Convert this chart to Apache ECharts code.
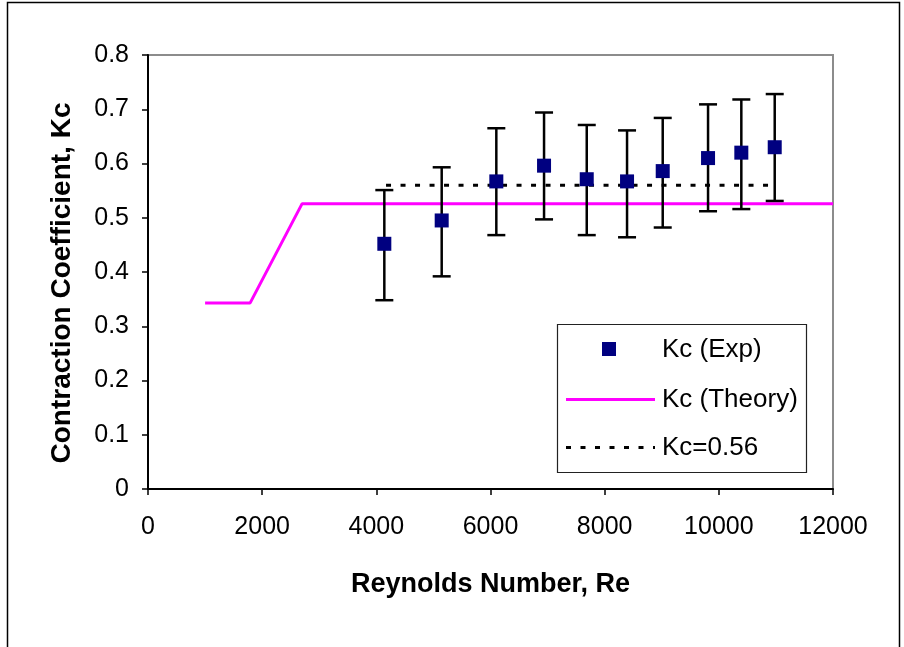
<!DOCTYPE html>
<html><head><meta charset="utf-8">
<script src="https://cdn.jsdelivr.net/npm/echarts@6/dist/echarts.min.js"></script>
<style>html,body{margin:0;padding:0;background:#fff}#c{width:904px;height:647px}</style>
</head><body><div id="c"></div>
<script>
// Experimental data
const reExp = [4140, 5145, 6102, 6938, 7686, 8392, 9017, 9811, 10394, 10979];
const kcExp = [0.452, 0.495, 0.567, 0.596, 0.571, 0.567, 0.586, 0.610, 0.620, 0.630];
const kcUpper = [0.551, 0.593, 0.665, 0.694, 0.671, 0.661, 0.684, 0.709, 0.718, 0.728];
const kcLower = [0.348, 0.392, 0.468, 0.497, 0.468, 0.464, 0.482, 0.512, 0.516, 0.531];
// Theory
const reTheory = [1000, 1790, 2700, 12000];
const kcTheory = [0.343, 0.343, 0.526, 0.526];
// Constant fit
const reFit = [4170, 10985];
const kcFit = [0.56, 0.56];
// Axis ticks
const xTicks = [0, 2000, 4000, 6000, 8000, 10000, 12000];
const yTicks = [0, 0.1, 0.2, 0.3, 0.4, 0.5, 0.6, 0.7, 0.8];
const legendNames = ['Kc (Exp)', 'Kc (Theory)', 'Kc=0.56'];

const FONT = '"Liberation Sans", Arial, sans-serif';
const chart = echarts.init(document.getElementById('c'));
const zip = (a, b) => a.map((v, i) => [v, b[i]]);

chart.setOption({
  animation: false,
  backgroundColor: '#fff',
  grid: {left: 148, top: 55, right: 71, bottom: 158, show: true, borderColor: '#8c8c8c', borderWidth: 2, backgroundColor: 'transparent'},
  xAxis: {
    type: 'value', min: xTicks[0], max: xTicks[xTicks.length - 1], interval: 2000,
    name: 'Reynolds Number, Re', nameLocation: 'middle', nameGap: 82,
    nameTextStyle: {fontFamily: FONT, fontSize: 27, fontWeight: 'bold', color: '#000'},
    axisLine: {lineStyle: {color: '#000', width: 2}},
    axisTick: {show: true, length: 6, lineStyle: {color: '#000', width: 1.5}},
    axisLabel: {fontFamily: FONT, fontSize: 25, color: '#000', margin: 26, formatter: v => String(v)},
    splitLine: {show: false}
  },
  yAxis: {
    type: 'value', min: yTicks[0], max: yTicks[yTicks.length - 1], interval: 0.1,
    name: 'Contraction Coefficient, Kc', nameLocation: 'middle', nameGap: 72, nameRotate: 90,
    nameTextStyle: {fontFamily: FONT, fontSize: 28, fontWeight: 'bold', color: '#000', padding: [0, 22, 0, 0]},
    axisLine: {show: true, lineStyle: {color: '#000', width: 2}},
    axisTick: {show: true, length: 6, lineStyle: {color: '#000', width: 1.5}},
    axisLabel: {fontFamily: FONT, fontSize: 25, color: '#000', margin: 19},
    splitLine: {show: false}
  },
  series: [
    {
      name: legendNames[1], type: 'line', data: zip(reTheory, kcTheory), symbol: 'none',
      lineStyle: {color: '#ff00ff', width: 3}, z: 2
    },
    {
      name: legendNames[2], type: 'line', data: zip(reFit, kcFit), symbol: 'none',
      lineStyle: {color: '#000', width: 3, type: [5, 9.5]}, z: 3
    },
    {
      name: 'err', type: 'custom', z: 4,
      data: reExp.map((x, i) => [x, kcLower[i], kcUpper[i]]),
      renderItem: function (params, api) {
        const lo = api.coord([api.value(0), api.value(1)]);
        const hi = api.coord([api.value(0), api.value(2)]);
        const hw = 9;
        const st = {stroke: '#000', lineWidth: 2.5};
        return {type: 'group', children: [
          {type: 'line', shape: {x1: hi[0], y1: hi[1], x2: lo[0], y2: lo[1]}, style: st},
          {type: 'line', shape: {x1: hi[0] - hw, y1: hi[1], x2: hi[0] + hw, y2: hi[1]}, style: st},
          {type: 'line', shape: {x1: lo[0] - hw, y1: lo[1], x2: lo[0] + hw, y2: lo[1]}, style: st}
        ]};
      }
    },
    {
      name: legendNames[0], type: 'scatter', data: zip(reExp, kcExp), symbol: 'rect', symbolSize: 14,
      itemStyle: {color: '#000080', opacity: 1}, z: 5
    }
  ],
  graphic: [
    {type: 'rect', shape: {x: 7.5, y: 2.5, width: 892, height: 660}, style: {fill: 'none', stroke: '#000', lineWidth: 1.5}, silent: true},
    {type: 'rect', shape: {x: 557.5, y: 324.5, width: 249, height: 148}, style: {fill: '#fff', stroke: '#222', lineWidth: 1.2}, z: 100},
    {type: 'rect', shape: {x: 602, y: 342, width: 14, height: 14}, style: {fill: '#000080'}, z: 101},
    {type: 'line', shape: {x1: 566, y1: 399.5, x2: 655, y2: 399.5}, style: {stroke: '#ff00ff', lineWidth: 3}, z: 101},
    {type: 'line', shape: {x1: 566, y1: 447.5, x2: 655, y2: 447.5}, style: {stroke: '#000', lineWidth: 3, lineDash: [5, 9.5]}, z: 101},
    {type: 'text', x: 662, y: 350, style: {text: legendNames[0], font: '26px ' + FONT, fill: '#000', textVerticalAlign: 'middle'}, z: 101},
    {type: 'text', x: 662, y: 400, style: {text: legendNames[1], font: '26px ' + FONT, fill: '#000', textVerticalAlign: 'middle'}, z: 101},
    {type: 'text', x: 662, y: 448, style: {text: legendNames[2], font: '26px ' + FONT, fill: '#000', textVerticalAlign: 'middle'}, z: 101}
  ]
});
</script></body></html>
